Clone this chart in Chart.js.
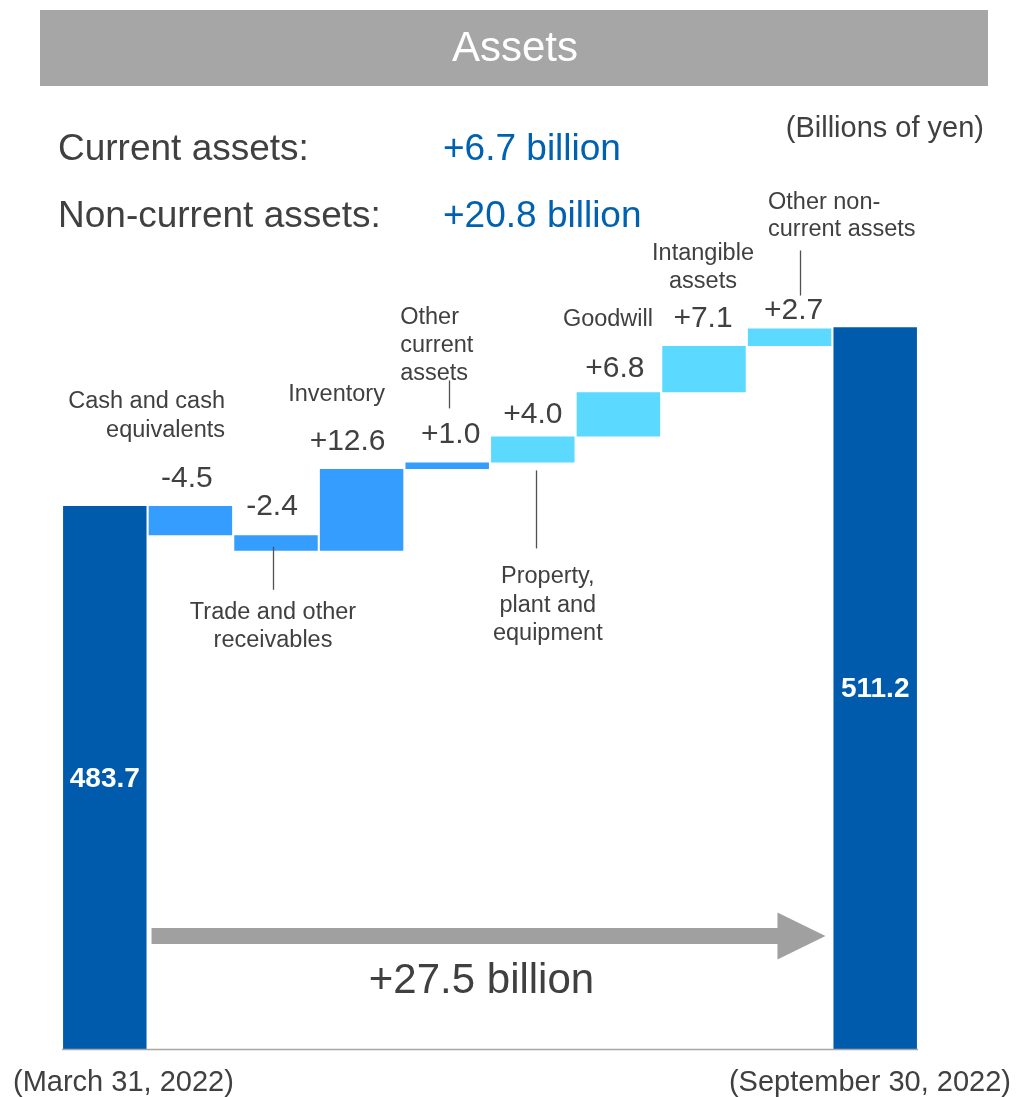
<!DOCTYPE html>
<html>
<head>
<meta charset="utf-8">
<title>Assets</title>
<script src="https://cdn.jsdelivr.net/npm/chart.js@4.4.1/dist/chart.umd.min.js"></script>
<style>
  html, body { margin: 0; padding: 0; background: #ffffff; }
  #wrap { width: 1017px; height: 1097px; position: relative; }
  canvas { display: block; }
</style>
</head>
<body>
<div id="wrap"><canvas id="chart" width="1017" height="1097"></canvas></div>
<script>
// ---- data (billions of yen) ----
const categories = [
  ['(March 31, 2022)'],
  ['Cash and cash', 'equivalents'],
  ['Trade and other', 'receivables'],
  ['Inventory'],
  ['Other', 'current', 'assets'],
  ['Property,', 'plant and', 'equipment'],
  ['Goodwill'],
  ['Intangible', 'assets'],
  ['Other non-', 'current assets'],
  ['(September 30, 2022)']
];
const openingBalance = 483.7;
const closingBalance = 511.2;
const changes = [-4.5, -2.4, 12.6, 1.0, 4.0, 6.8, 7.1, 2.7];
const changeGroup = ['current', 'current', 'current', 'current', 'noncurrent', 'noncurrent', 'noncurrent', 'noncurrent'];
const summaryLabels = ['Current assets:', 'Non-current assets:'];
const summaryValues = ['+6.7 billion', '+20.8 billion'];
const axisFloor = 400;
const axisCeil = 540;

// ---- build the waterfall ranges ----
const ranges = [];
const colors = [];
const COLOR_TOTAL = '#005BAC';
const COLOR_CURRENT = '#349DFE';
const COLOR_NONCURRENT = '#5CD9FE';
ranges.push([axisFloor, openingBalance]);
colors.push(COLOR_TOTAL);
let running = openingBalance;
changes.forEach((c, i) => {
  const next = Math.round((running + c) * 10) / 10;
  ranges.push([running, next]);
  colors.push(changeGroup[i] === 'current' ? COLOR_CURRENT : COLOR_NONCURRENT);
  running = next;
});
ranges.push([axisFloor, closingBalance]);
colors.push(COLOR_TOTAL);

const fmtChange = v => (v > 0 ? '+' : '') + v.toFixed(1);

const FONT = '"Liberation Sans", Arial, Helvetica, sans-serif';
const TEXT = '#404040';

// label placement relative to each bar (dx from bar centre, dy from bar top/bottom)
const valueLabelGap = [19, 20, 19, 19, 13, 15, 19, 10];
const valueLabelDx = [-3.5, -4, -14, 3.5, 0, -3.5, -1, 4];
const nameLayout = [
  null,
  { align: 'right', dx: 34.6, ref: 'top', dy: [-98, -69] },
  { align: 'center', dx: -3, ref: 'bottom', dy: [68, 96], line: { dx: -3, from: -4, to: 39 } },
  { align: 'center', dx: -25, ref: 'top', dy: [-68] },
  { align: 'left', dx: -47, ref: 'top', dy: [-138, -110, -82], line: { dx: 1.5, from: -82, to: -54 } },
  { align: 'center', dx: 15, ref: 'bottom', dy: [121, 150, 178], line: { dx: 3, from: 8, to: 86 } },
  { align: 'right', dx: 34.6, ref: 'top', dy: [-66] },
  { align: 'center', dx: -1, ref: 'top', dy: [-86, -58] },
  { align: 'left', dx: -21.6, ref: 'top', dy: [-120, -93], line: { dx: 10, from: -78, to: -33 } },
  null
];

const decorations = {
  id: 'decorations',
  beforeDraw(chart) {
    const ctx = chart.ctx;
    ctx.save();
    // title banner
    ctx.fillStyle = '#A6A6A6';
    ctx.fillRect(40, 10, 948, 76);
    ctx.fillStyle = '#ffffff';
    ctx.font = '42px ' + FONT;
    ctx.textAlign = 'center';
    ctx.textBaseline = 'alphabetic';
    ctx.fillText('Assets', 515, 61);

    // summary lines
    ctx.textAlign = 'left';
    ctx.font = '37px ' + FONT;
    summaryLabels.forEach((t, i) => {
      ctx.fillStyle = TEXT;
      ctx.fillText(t, 58, 160 + i * 67);
      ctx.fillStyle = '#0061B0';
      ctx.fillText(summaryValues[i], 443, 160 + i * 67);
    });

    // unit note
    ctx.fillStyle = TEXT;
    ctx.font = '29px ' + FONT;
    ctx.textAlign = 'right';
    ctx.fillText('(Billions of yen)', 984, 137);
    ctx.restore();
  },
  afterDatasetsDraw(chart) {
    const ctx = chart.ctx;
    const bars = chart.getDatasetMeta(0).data;
    const area = chart.chartArea;
    ctx.save();

    // baseline
    ctx.strokeStyle = '#A6A6A6';
    ctx.lineWidth = 1.5;
    ctx.beginPath();
    ctx.moveTo(area.left, area.bottom - 0.5);
    ctx.lineTo(area.right, area.bottom - 0.5);
    ctx.stroke();

    // totals inside the end bars
    ctx.fillStyle = '#ffffff';
    ctx.font = 'bold 28px ' + FONT;
    ctx.textAlign = 'center';
    ctx.textBaseline = 'middle';
    [0, bars.length - 1].forEach(i => {
      const b = bars[i];
      const top = Math.min(b.y, b.base);
      const bottom = Math.max(b.y, b.base);
      const v = i === 0 ? openingBalance : closingBalance;
      ctx.fillText(v.toFixed(1), b.x, (top + bottom) / 2 + 1);
    });

    // change values above the floating bars
    ctx.fillStyle = TEXT;
    ctx.font = '30px ' + FONT;
    ctx.textBaseline = 'alphabetic';
    changes.forEach((c, k) => {
      const b = bars[k + 1];
      const top = Math.min(b.y, b.base);
      ctx.fillText(fmtChange(c), b.x + valueLabelDx[k], top - valueLabelGap[k]);
    });

    // item names and leader lines
    ctx.font = '23.5px ' + FONT;
    ctx.strokeStyle = '#505050';
    ctx.lineWidth = 1.3;
    nameLayout.forEach((lay, i) => {
      if (!lay) return;
      const b = bars[i];
      const top = Math.min(b.y, b.base);
      const bottom = Math.max(b.y, b.base);
      const refY = lay.ref === 'top' ? top : bottom;
      ctx.textAlign = lay.align;
      categories[i].forEach((line, j) => {
        ctx.fillText(line, b.x + lay.dx, refY + lay.dy[j]);
      });
      if (lay.line) {
        const x = Math.round(b.x + lay.line.dx) + 0.5;
        ctx.beginPath();
        ctx.moveTo(x, refY + lay.line.from);
        ctx.lineTo(x, refY + lay.line.to);
        ctx.stroke();
      }
    });

    // period labels under the end bars
    ctx.font = '29px ' + FONT;
    ctx.textAlign = 'left';
    ctx.fillText(categories[0][0], 13, 1091);
    ctx.textAlign = 'right';
    ctx.fillText(categories[categories.length - 1][0], 1011, 1091);

    // change arrow between the two balances
    const b0 = bars[0], b9 = bars[bars.length - 1];
    const x0 = b0.x + b0.width / 2 + 5;
    const x1 = b9.x - b9.width / 2 - 8;
    const ay = 936;
    ctx.fillStyle = '#A0A0A0';
    ctx.beginPath();
    ctx.moveTo(x0, ay - 8);
    ctx.lineTo(x1 - 48, ay - 8);
    ctx.lineTo(x1 - 48, ay - 23.5);
    ctx.lineTo(x1, ay);
    ctx.lineTo(x1 - 48, ay + 23.5);
    ctx.lineTo(x1 - 48, ay + 8);
    ctx.lineTo(x0, ay + 8);
    ctx.closePath();
    ctx.fill();

    ctx.fillStyle = TEXT;
    ctx.font = '42px ' + FONT;
    ctx.textAlign = 'center';
    const total = closingBalance - openingBalance;
    ctx.fillText(fmtChange(total) + ' billion', (x0 + x1) / 2 - 7, 993);
    ctx.restore();
  }
};

new Chart(document.getElementById('chart'), {
  type: 'bar',
  data: {
    labels: categories.map(c => c.join(' ')),
    datasets: [{
      data: ranges,
      backgroundColor: colors,
      borderWidth: 0,
      barPercentage: 0.975,
      categoryPercentage: 1.0
    }]
  },
  options: {
    responsive: false,
    animation: false,
    layout: { padding: { left: 62, right: 99, top: 140, bottom: 47 } },
    plugins: {
      legend: { display: false },
      tooltip: { enabled: false },
      title: { display: false }
    },
    scales: {
      x: { display: false, offset: true },
      y: { display: false, min: axisFloor, max: axisCeil }
    }
  },
  plugins: [decorations]
});
</script>
</body>
</html>
